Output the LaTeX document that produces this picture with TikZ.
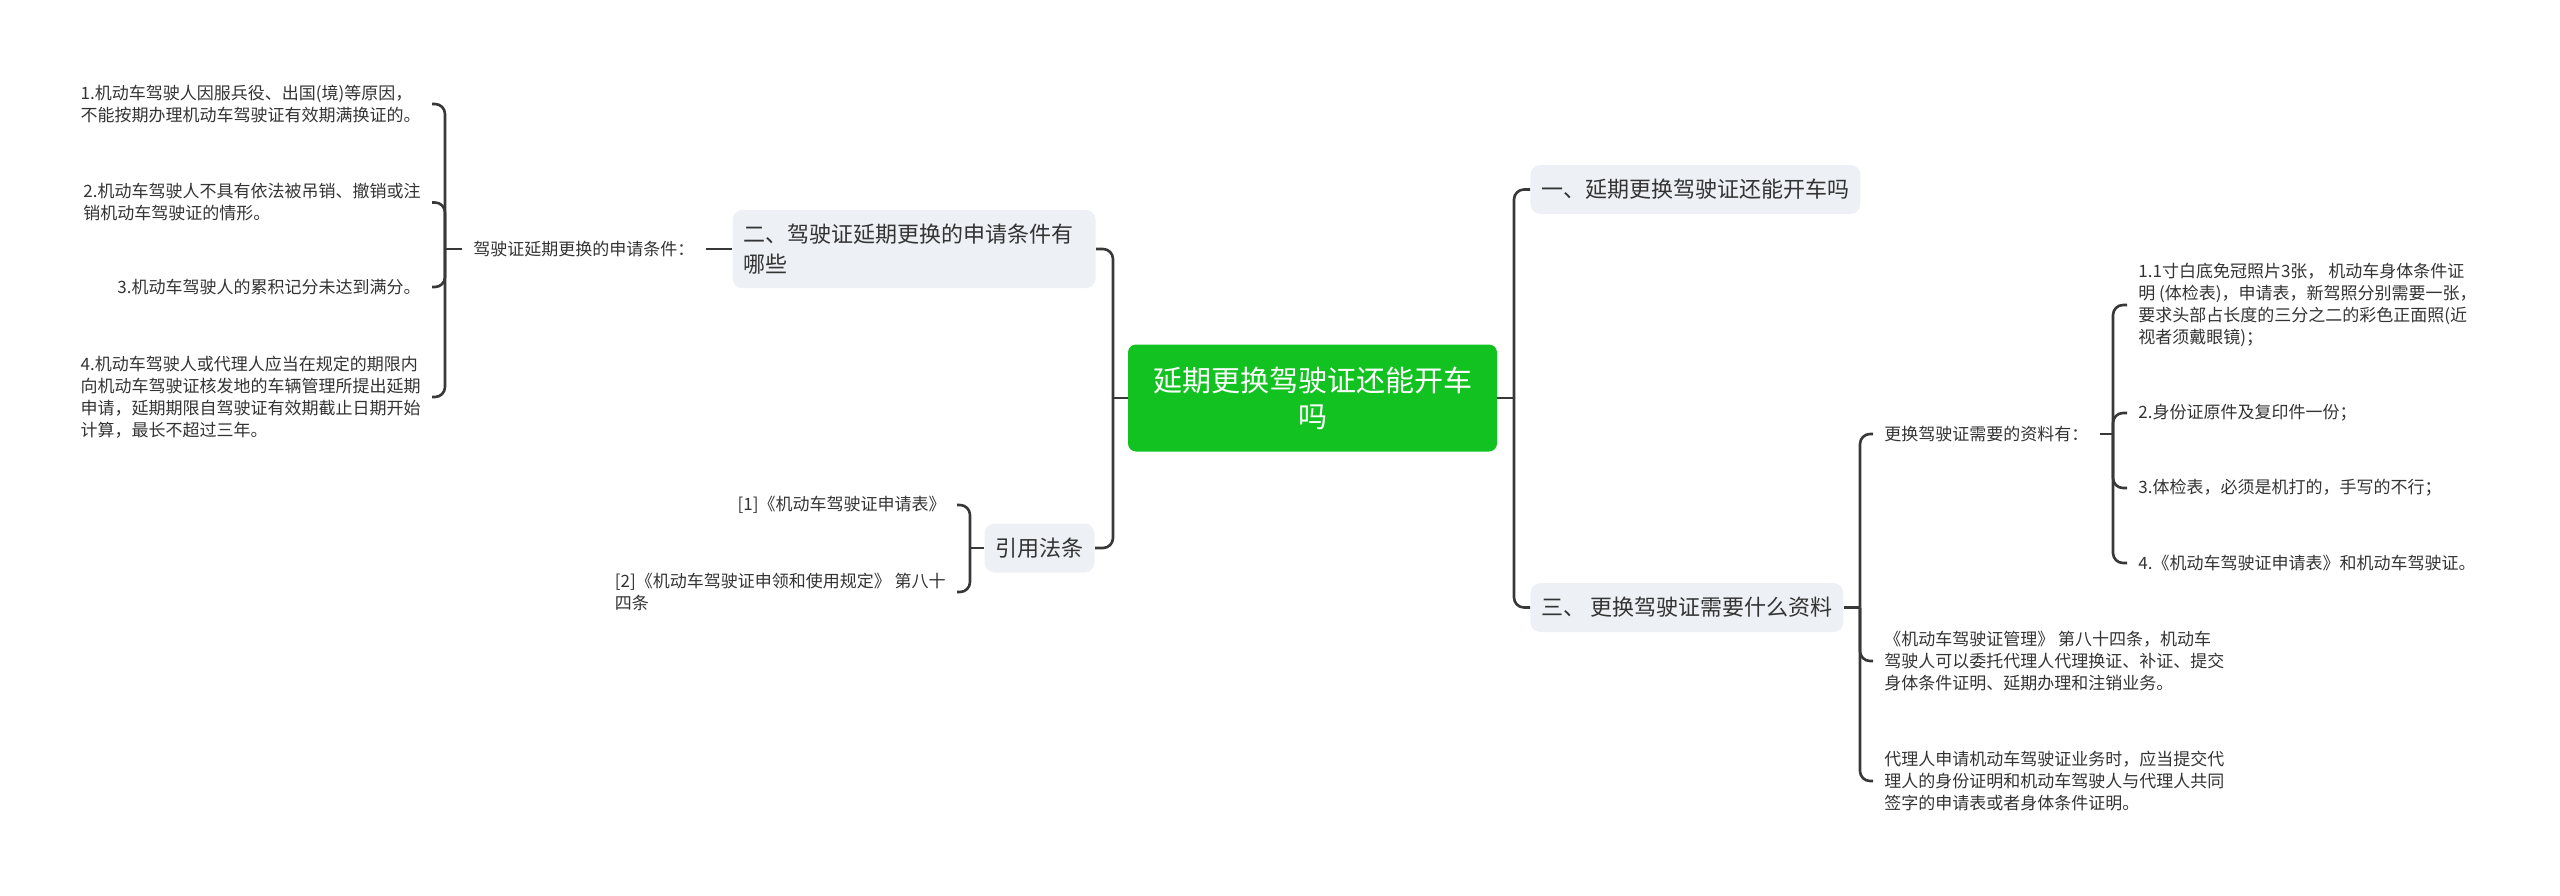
\documentclass[tikz,border=0pt]{standalone}
\usepackage{fontspec}
\setmainfont{Noto Sans CJK SC}
\usepackage{tikz}
\definecolor{rootgreen}{RGB}{18,194,33}
\definecolor{topicgray}{RGB}{237,240,244}
\definecolor{linegray}{RGB}{56,56,56}
\definecolor{textgray}{RGB}{51,51,51}
\tikzset{
  link/.style={draw=linegray, line width=1.3pt, rounded corners=5pt},
  rootbox/.style={fill=rootgreen, text=white, rounded corners=4pt, align=center,
    minimum width=184.5pt, minimum height=53.5pt, inner sep=0pt,
    font=\fontsize{14.5pt}{18pt}\selectfont},
  topic/.style={fill=topicgray, text=textgray, rounded corners=5pt, minimum height=24.5pt,
    inner xsep=5.5pt, inner ysep=6pt, align=left, font=\fontsize{11pt}{15pt}\selectfont},
  leaf/.style={text=textgray, inner xsep=5.5pt, inner ysep=2pt, align=left,
    font=\fontsize{8.5pt}{11pt}\selectfont},
}
\begin{document}
\begin{tikzpicture}[x=0.5pt, y=-0.5pt]
      \useasboundingbox (0, 0) rectangle (2560, 895);
      \node [rootbox] (root) at (1312.5, 398) {延期更换驾驶证还能开车\\吗};
      \node [topic, anchor=west] (q1) at (1530, 189.5) {一、延期更换驾驶证还能开车吗};
      \node [topic, anchor=west] (q3) at (1530, 607.5) {三、 更换驾驶证需要什么资料};
      \node [topic, anchor=east, text width=170.5pt, inner ysep=7pt] (q2) at (1096, 249) {二、驾驶证延期更换的申请条件有\\哪些};
      \node [topic, anchor=east] (refs) at (1095, 548) {引用法条};
      \node [leaf, anchor=west] (cond) at (462, 249) {驾驶证延期更换的申请条件：};
      \node [leaf, anchor=east] (cond1) at (432, 104) {1.机动车驾驶人因服兵役、出国(境)等原因，\\不能按期办理机动车驾驶证有效期满换证的。};
      \node [leaf, anchor=east] (cond2) at (432, 202.5) {2.机动车驾驶人不具有依法被吊销、撤销或注\\销机动车驾驶证的情形。};
      \node [leaf, anchor=east] (cond3) at (432, 287) {3.机动车驾驶人的累积记分未达到满分。};
      \node [leaf, anchor=east] (cond4) at (432, 397) {4.机动车驾驶人或代理人应当在规定的期限内\\向机动车驾驶证核发地的车辆管理所提出延期\\申请，延期期限自驾驶证有效期截止日期开始\\计算，最长不超过三年。};
      \node [leaf, anchor=east] (ref1) at (957, 505) {[1]《机动车驾驶证申请表》};
      \node [leaf, anchor=east] (ref2) at (957, 592) {[2]《机动车驾驶证申领和使用规定》 第八十\\四条};
      \node [leaf, anchor=west] (mats) at (1873, 434) {更换驾驶证需要的资料有：};
      \node [leaf, anchor=west] (mat1) at (2127, 305) {1.1寸白底免冠照片3张， 机动车身体条件证\\明 (体检表)，申请表，新驾照分别需要一张，\\要求头部占长度的三分之二的彩色正面照(近\\视者须戴眼镜)；};
      \node [leaf, anchor=west] (mat2) at (2127, 413) {2.身份证原件及复印件一份；};
      \node [leaf, anchor=west] (mat3) at (2127, 488) {3.体检表，必须是机打的，手写的不行；};
      \node [leaf, anchor=west] (mat4) at (2127, 563) {4.《机动车驾驶证申请表》和机动车驾驶证。};
      \node [leaf, anchor=west] (law) at (1873, 661) {《机动车驾驶证管理》 第八十四条，机动车\\驾驶人可以委托代理人代理换证、补证、提交\\身体条件证明、延期办理和注销业务。};
      \node [leaf, anchor=west] (agent) at (1873, 781) {代理人申请机动车驾驶证业务时，应当提交代\\理人的身份证明和机动车驾驶人与代理人共同\\签字的申请表或者身体条件证明。};
      \coordinate (jl) at (1113, 398);
      \coordinate (jr) at (1514, 398);
      \coordinate (jcond) at (445, 249);
      \coordinate (jrefs) at (970, 548);
      \coordinate (jq3) at (1860, 607.5);
      \coordinate (jmats) at (2113, 434);
      \draw [link] (root.west) -- (jl);
      \draw [link] (jl) |- (q2.east);
      \draw [link] (jl) |- (refs.east);
      \draw [link] (root.east) -- (jr);
      \draw [link] (jr) |- (q1.west);
      \draw [link] (jr) |- (q3.west);
      \draw [link] (q2.west) -- (cond.east);
      \draw [link] (cond.west) -- (jcond);
      \foreach \c in {cond1, cond2, cond3, cond4}
        \draw [link] (jcond) |- (\c.east);
      \draw [link] (refs.west) -- (jrefs);
      \draw [link] (jrefs) |- (ref1.east);
      \draw [link] (jrefs) |- (ref2.east);
      \draw [link] (q3.east) -- (jq3);
      \foreach \c in {mats, law, agent}
        \draw [link] (jq3) |- (\c.west);
      \draw [link] (mats.east) -- (jmats);
      \foreach \c in {mat1, mat2, mat3, mat4}
        \draw [link] (jmats) |- (\c.west);
    \end{tikzpicture}
\end{document}
